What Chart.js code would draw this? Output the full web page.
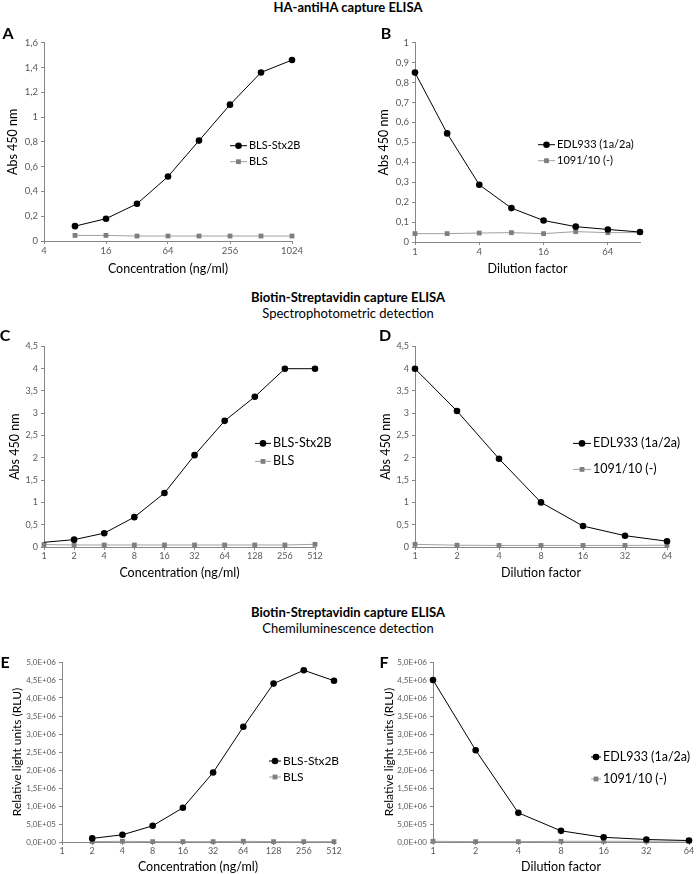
<!DOCTYPE html>
<html lang="en">
<head>
<meta charset="UTF-8">
<title>ELISA capture panels</title>
<style>
  body { margin: 0; background: #fff; font-family: Lato, "Open Sans", sans-serif; }
  #page { position: relative; width: 696px; height: 874px; overflow: hidden; }
  .title { position: absolute; left: 0; width: 696px; text-align: center; font-size: 13px; line-height: 16px; color: #000; }
  .bold { font-weight: bold; }
  .letter { position: absolute; font-weight: bold; font-size: 16px; line-height: 18px; width: 16px; text-align: center; }
  canvas { position: absolute; }
</style>
<script src="https://cdn.jsdelivr.net/npm/chart.js@4.4.1/dist/chart.umd.min.js"></script>
</head>
<body>
<div id="page">
  <div class="title bold" style="top:-1px">HA-antiHA capture ELISA</div>
  <div class="title bold" style="top:289px">Biotin-Streptavidin capture ELISA</div>
  <div class="title" style="top:305px">Spectrophotometric detection</div>
  <div class="title bold" style="top:604px">Biotin-Streptavidin capture ELISA</div>
  <div class="title" style="top:620px">Chemiluminescence detection</div>

  <canvas id="chartA"></canvas>
  <canvas id="chartB"></canvas>
  <canvas id="chartC"></canvas>
  <canvas id="chartD"></canvas>
  <canvas id="chartE"></canvas>
  <canvas id="chartF"></canvas>

  <div class="letter" style="left:0px;top:24px">A</div>
  <div class="letter" style="left:378px;top:24px">B</div>
  <div class="letter" style="left:-3px;top:326px">C</div>
  <div class="letter" style="left:377px;top:326px">D</div>
  <div class="letter" style="left:-3px;top:653px">E</div>
  <div class="letter" style="left:376px;top:653px">F</div>
</div>
<script>
// ---- data ----
// A: HA-antiHA, concentration (ng/ml), log axis
const concA = [8, 16, 32, 64, 128, 256, 512, 1024];
const blsStx2bA = [0.12, 0.18, 0.30, 0.52, 0.81, 1.10, 1.36, 1.46];
const blsA = [0.045, 0.045, 0.04, 0.04, 0.04, 0.04, 0.04, 0.04];
const xTicksA = [4, 16, 64, 256, 1024];

// B: HA-antiHA, dilution factor, log axis
const dilB = [1, 2, 4, 8, 16, 32, 64, 128];
const edlB = [0.85, 0.545, 0.287, 0.17, 0.108, 0.077, 0.063, 0.05];
const negB = [0.042, 0.042, 0.045, 0.047, 0.042, 0.052, 0.047, 0.047];
const xTicksB = [1, 4, 16, 64];

// C/E categories, D/F categories
const concCE = ['1', '2', '4', '8', '16', '32', '64', '128', '256', '512'];
const dilDF = ['1', '2', '4', '8', '16', '32', '64'];

// C: spectrophotometric
const blsStx2bC = [0.105, 0.165, 0.31, 0.67, 1.21, 2.06, 2.83, 3.37, 4.0, 4.0];
const blsC = [0.055, 0.045, 0.045, 0.045, 0.045, 0.045, 0.045, 0.045, 0.045, 0.06];

// D: spectrophotometric
const edlD = [4.0, 3.05, 1.98, 1.0, 0.47, 0.254, 0.13];
const negD = [0.06, 0.04, 0.035, 0.035, 0.035, 0.035, 0.04];

// E: chemiluminescence (RLU)
const blsStx2bE = [null, 1.0e5, 2.0e5, 4.5e5, 9.5e5, 1.93e6, 3.2e6, 4.4e6, 4.77e6, 4.48e6];
const blsE = [null, 1e4, 2e4, 1e4, 1e4, 1e4, 2e4, 1e4, 1e4, 1e4];

// F: chemiluminescence (RLU)
const edlF = [4.5e6, 2.55e6, 8.1e5, 3.1e5, 1.3e5, 7e4, 4e4];
const negF = [2e4, 1e4, 1e4, 2e4, 2e4, 2e4, 3e4];

// ---- helpers ----
const AXIS = '#868686';
const TICK = '#595959';
const FONT = 'Lato, "Open Sans", sans-serif';

function commaNum(v) {
  return String(Math.round(v * 10) / 10).replace('.', ',');
}
function sciNum(v) {
  const parts = v.toExponential(1).split('e');
  const exp = parseInt(parts[1], 10);
  const sign = exp < 0 ? '-' : '+';
  return parts[0].replace('.', ',') + 'E' + sign + String(Math.abs(exp)).padStart(2, '0');
}
function xy(xs, ys) {
  return xs.map((x, i) => ({ x: x, y: ys[i] }));
}

function blackSeries(label, data, radius) {
  return {
    label: label, data: data,
    borderColor: '#000', backgroundColor: '#000', borderWidth: 1,
    pointStyle: 'circle', pointRadius: radius === undefined ? 3.3 : radius,
    pointBorderWidth: 0, pointHoverRadius: 0, tension: 0, clip: false
  };
}
function graySeries(label, data) {
  return {
    label: label, data: data,
    borderColor: '#a0a0a0', backgroundColor: '#7f7f7f', borderWidth: 1,
    pointStyle: 'rect', pointRadius: 3.4,
    pointBorderWidth: 0, pointHoverRadius: 0, tension: 0, clip: false
  };
}

// legend drawn inside the plot area, Excel style
const insideLegend = {
  id: 'insideLegend',
  afterDatasetsDraw(chart, args, opts) {
    const ctx = chart.ctx;
    const a = chart.chartArea;
    ctx.save();
    ctx.font = opts.size + 'px ' + FONT;
    ctx.textBaseline = 'middle';
    chart.data.datasets.forEach((ds, i) => {
      const x = a.left + opts.x;
      const y = a.top + opts.y + i * opts.gap;
      ctx.strokeStyle = ds.borderColor;
      ctx.lineWidth = 1;
      ctx.beginPath();
      ctx.moveTo(x, y);
      ctx.lineTo(x + opts.len, y);
      ctx.stroke();
      ctx.fillStyle = ds.backgroundColor;
      Chart.helpers.drawPoint(ctx, {
        pointStyle: ds.pointStyle, rotation: 0,
        radius: ds.pointStyle === 'rect' ? 3.4 : 3.3, borderWidth: 0
      }, x + opts.len / 2, y);
      ctx.fillStyle = '#000';
      ctx.fillText(ds.label, x + opts.len + 2, y);
    });
    ctx.restore();
  }
};

function buildPanel(id, p) {
  const el = document.getElementById(id);
  el.width = p.yw + (p.R - p.L) + p.padR;
  el.height = p.padT + (p.B - p.T) + p.xh;
  el.style.left = (p.L - p.yw) + 'px';
  el.style.top = (p.T - p.padT) + 'px';

  const xScale = Object.assign({
    border: { color: AXIS, width: 1 },
    grid: { drawOnChartArea: false, drawTicks: true, tickLength: 3, color: AXIS },
    ticks: { color: TICK, font: { family: FONT, size: p.xTickSize }, padding: 1, maxRotation: 0, autoSkip: false },
    title: { display: true, text: p.xTitle, color: '#000', font: { family: FONT, size: 12.5 }, padding: { top: 0, bottom: p.xTitlePad } },
    afterFit: (s) => { s.height = p.xh; }
  }, p.xScale);

  return new Chart(el, {
    type: 'line',
    data: { labels: p.labels, datasets: p.datasets },
    options: {
      responsive: false,
      animation: false,
      events: [],
      layout: { padding: { left: 0, top: p.padT, right: p.padR, bottom: 0 } },
      plugins: {
        legend: { display: false },
        tooltip: { enabled: false },
        insideLegend: p.legend
      },
      scales: {
        x: xScale,
        y: {
          type: 'linear', min: p.yMin, max: p.yMax,
          border: { color: AXIS, width: 1 },
          grid: { drawOnChartArea: false, drawTicks: true, tickLength: 3, color: AXIS },
          ticks: { stepSize: p.yStep, color: TICK, font: { family: FONT, size: p.yTickSize }, padding: 3, callback: p.yFmt },
          title: { display: true, text: p.yTitle, color: '#000', font: { family: FONT, size: p.yTitleSize }, padding: { top: p.yTitlePad, bottom: 0 } },
          afterFit: (s) => { s.width = p.yw; }
        }
      }
    },
    plugins: [insideLegend]
  });
}

function logX(min, max, tickVals) {
  return {
    type: 'logarithmic', min: min, max: max,
    afterBuildTicks: (s) => { s.ticks = tickVals.map(v => ({ value: v })); },
    ticks: { color: TICK, font: { family: FONT, size: 9.5 }, padding: 1, maxRotation: 0, autoSkip: false, callback: (v) => String(v) }
  };
}

// ---- A ----
buildPanel('chartA', {
  L: 44, R: 292, T: 42, B: 241, yw: 44, padT: 8, padR: 18, xh: 37,
  xTitle: 'Concentration (ng/ml)', xTitlePad: 2, xTickSize: 9.5, xScale: logX(4, 1024, xTicksA),
  yTitle: 'Abs 450 nm', yTitleSize: 12.5, yTitlePad: 5, yTickSize: 9.5,
  yMin: 0, yMax: 1.6, yStep: 0.2, yFmt: commaNum,
  datasets: [blackSeries('BLS-Stx2B', xy(concA, blsStx2bA)), graySeries('BLS', xy(concA, blsA))],
  legend: { x: 186, y: 103, len: 17, gap: 16, size: 11 }
});

// ---- B ----
buildPanel('chartB', {
  L: 415, R: 640, T: 42, B: 242, yw: 44, padT: 8, padR: 18, xh: 36,
  xTitle: 'Dilution factor', xTitlePad: 2, xTickSize: 9.5, xScale: logX(1, 128, xTicksB),
  yTitle: 'Abs 450 nm', yTitleSize: 12.5, yTitlePad: 5, yTickSize: 9.5,
  yMin: 0, yMax: 1, yStep: 0.1, yFmt: commaNum,
  datasets: [blackSeries('EDL933 (1a/2a)', xy(dilB, edlB)), graySeries('1091/10 (-)', xy(dilB, negB))],
  legend: { x: 123, y: 102, len: 17, gap: 16, size: 11 }
});

// ---- C ----
buildPanel('chartC', {
  L: 44, R: 315, T: 346, B: 547, yw: 44, padT: 8, padR: 16, xh: 34,
  labels: concCE,
  xTitle: 'Concentration (ng/ml)', xTitlePad: 1, xTickSize: 9, xScale: { type: 'category', offset: false },
  yTitle: 'Abs 450 nm', yTitleSize: 12.5, yTitlePad: 7, yTickSize: 9,
  yMin: 0, yMax: 4.5, yStep: 0.5, yFmt: commaNum,
  datasets: [
    blackSeries('BLS-Stx2B', blsStx2bC, blsStx2bC.map((v, i) => (i === 0 ? 0 : 3.3))),
    graySeries('BLS', blsC)
  ],
  legend: { x: 211, y: 97, len: 16, gap: 18, size: 12.5 }
});

// ---- D ----
buildPanel('chartD', {
  L: 415, R: 667, T: 346, B: 547, yw: 44, padT: 8, padR: 16, xh: 34,
  labels: dilDF,
  xTitle: 'Dilution factor', xTitlePad: 1, xTickSize: 9, xScale: { type: 'category', offset: false },
  yTitle: 'Abs 450 nm', yTitleSize: 12.5, yTitlePad: 7, yTickSize: 9,
  yMin: 0, yMax: 4.5, yStep: 0.5, yFmt: commaNum,
  datasets: [blackSeries('EDL933 (1a/2a)', edlD), graySeries('1091/10 (-)', negD)],
  legend: { x: 158, y: 97, len: 18, gap: 26, size: 12.5 }
});

// ---- E ----
buildPanel('chartE', {
  L: 62, R: 334, T: 662, B: 842, yw: 62, padT: 8, padR: 14, xh: 32,
  labels: concCE,
  xTitle: 'Concentration (ng/ml)', xTitlePad: 0, xTickSize: 9, xScale: { type: 'category', offset: false },
  yTitle: 'Relative light units (RLU)', yTitleSize: 12, yTitlePad: 10, yTickSize: 8,
  yMin: 0, yMax: 5e6, yStep: 5e5, yFmt: sciNum,
  datasets: [blackSeries('BLS-Stx2B', blsStx2bE), graySeries('BLS', blsE)],
  legend: { x: 207, y: 99, len: 12, gap: 16, size: 12 }
});

// ---- F ----
buildPanel('chartF', {
  L: 433, R: 689, T: 662, B: 842, yw: 62, padT: 8, padR: 7, xh: 32,
  labels: dilDF,
  xTitle: 'Dilution factor', xTitlePad: 0, xTickSize: 9, xScale: { type: 'category', offset: false },
  yTitle: 'Relative light units (RLU)', yTitleSize: 12, yTitlePad: 11, yTickSize: 8,
  yMin: 0, yMax: 5e6, yStep: 5e5, yFmt: sciNum,
  datasets: [blackSeries('EDL933 (1a/2a)', edlF), graySeries('1091/10 (-)', negF)],
  legend: { x: 158, y: 95, len: 10, gap: 22, size: 12.5 }
});
</script>
</body>
</html>
